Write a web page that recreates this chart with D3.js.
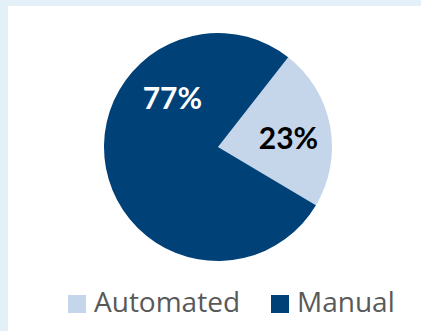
<!DOCTYPE html>
<html lang="en">
<head>
<meta charset="utf-8">
<title>Automated vs Manual</title>
<script src="https://cdn.jsdelivr.net/npm/d3@7"></script>
<style>
  body { margin: 0; background: #e4f0f8; }
  svg { display: block; }
  .lbl { font-family: Lato, "Open Sans", sans-serif; font-weight: bold; font-size: 30px; }
  .legend text { font-family: "Open Sans", sans-serif; font-size: 28px; fill: #595959; }
</style>
</head>
<body>
<script>
var categories = ["Automated", "Manual"];
var values = [23, 77];

var w = 421, h = 331;
var cx = 218, cy = 147, r = 114;

var color = d3.scaleOrdinal()
  .domain(categories)
  .range(["#c5d5ea", "#004178"]);
var labelColor = { "Automated": "#000", "Manual": "#fff" };
// where excel's "best fit" put the labels (angle in degrees, radius)
var labelPos = { "Automated": [83, 71], "Manual": [317, 67] };

var svg = d3.select("body").append("svg")
  .attr("width", w)
  .attr("height", h);

// white plot panel
svg.append("rect")
  .attr("x", 8).attr("y", 6)
  .attr("width", w - 8).attr("height", h - 6)
  .attr("fill", "#fff");

var pie = d3.pie()
  .sort(null)
  .startAngle(38 * Math.PI / 180)
  .endAngle(38 * Math.PI / 180 + 2 * Math.PI);

var arc = d3.arc().innerRadius(0).outerRadius(r);

var slices = pie(values);

var g = svg.append("g").attr("transform", "translate(" + cx + "," + cy + ")");

g.selectAll("path")
  .data(slices)
  .enter().append("path")
  .attr("d", arc)
  .attr("fill", function (d, i) { return color(categories[i]); });

var total = d3.sum(values);
g.selectAll("text")
  .data(slices)
  .enter().append("text")
  .attr("class", "lbl")
  .attr("text-anchor", "middle")
  .attr("dy", "0.36em")
  .attr("x", function (d, i) {
    var p = labelPos[categories[i]];
    return Math.sin(p[0] * Math.PI / 180) * p[1];
  })
  .attr("y", function (d, i) {
    var p = labelPos[categories[i]];
    return -Math.cos(p[0] * Math.PI / 180) * p[1];
  })
  .attr("fill", function (d, i) { return labelColor[categories[i]]; })
  .text(function (d) { return Math.round(d.value / total * 100) + "%"; });

// legend
var legend = svg.append("g").attr("class", "legend");
var legendX = [68, 271];
var items = legend.selectAll("g")
  .data(categories)
  .enter().append("g")
  .attr("transform", function (d, i) { return "translate(" + legendX[i] + ",295)"; });

items.append("rect")
  .attr("width", 18).attr("height", 18)
  .attr("fill", function (d) { return color(d); });

items.append("text")
  .attr("x", 26)
  .attr("y", 17)
  .text(function (d) { return d; });
</script>
</body>
</html>
